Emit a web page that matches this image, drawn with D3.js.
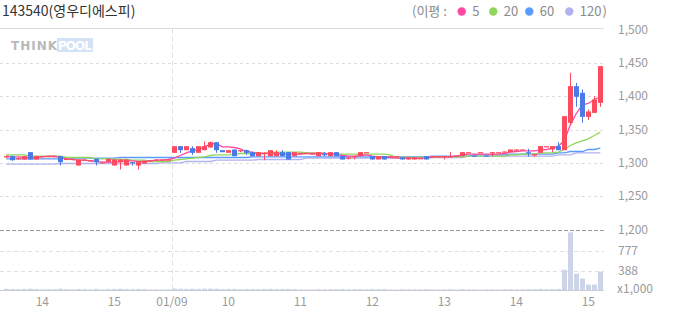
<!DOCTYPE html>
<html><head><meta charset="utf-8">
<script src="https://cdn.jsdelivr.net/npm/d3@7"></script>
<style>html,body{margin:0;padding:0;background:#fff;}svg{display:block;}</style>
</head><body>
<svg id="chart" width="673" height="315"></svg>
<script>
const title = "143540(영우디에스피)";
const opens  = [1308,1310,1306,1305,1316,1305,1310,1310,1309,1310, 1305,1306,1296,1304,1303,1306,1301,1301,1296,1301, 1296,1301,1296,1299,1304,1305,1305,1305,1315,1325, 1319,1322,1315,1319,1323,1331,1319,1315,1320,1319, 1319,1316,1310,1314,1310,1310,1316,1316,1310,1315, 1315,1314,1310,1313,1310,1316,1310,1307,1310,1310, 1316,1310,1305,1310,1310,1310,1308,1305,1305,1307, 1310,1310,1310,1310,1310,1311,1310,1316,1311,1316, 1311,1316,1316,1316,1316,1319,1319,1316,1312,1315, 1325,1320,1325,1319,1360,1415,1405,1369,1375,1390];
const closes = [1310,1304,1307,1310,1305,1310,1310,1310,1310,1301, 1306,1306,1305,1305,1304,1301,1301,1306,1305,1305, 1305,1300,1302,1303,1304,1305,1305,1305,1325,1319, 1325,1315,1325,1325,1331,1319,1316,1319,1310,1319, 1315,1310,1316,1315,1319,1316,1310,1305,1316,1315, 1315,1314,1316,1312,1316,1310,1305,1308,1310,1316, 1316,1305,1310,1305,1310,1310,1305,1308,1308,1307, 1305,1310,1310,1310,1310,1311,1316,1316,1310,1316, 1310,1316,1316,1317,1320,1320,1320,1315,1313,1325, 1325,1325,1319,1370,1415,1399,1369,1377,1395,1445];
const highs  = [1311,1311,1308,1310,1316,1310,1310,1310,1310,1310, 1306,1306,1305,1305,1304,1306,1301,1306,1305,1305, 1305,1301,1302,1303,1304,1305,1305,1305,1325,1325, 1325,1325,1325,1332,1332,1331,1319,1319,1320,1319, 1320,1316,1316,1316,1319,1319,1319,1316,1316,1315, 1315,1314,1316,1316,1316,1316,1310,1308,1310,1316, 1316,1310,1310,1310,1310,1310,1308,1308,1308,1307, 1310,1310,1310,1310,1316,1311,1316,1316,1311,1316, 1311,1316,1316,1317,1320,1320,1320,1321,1313,1325, 1325,1325,1331,1370,1435,1420,1410,1380,1400,1445];
const lows   = [1307,1303,1305,1305,1305,1305,1310,1310,1309,1296, 1305,1305,1296,1304,1303,1296,1301,1301,1296,1290, 1296,1296,1290,1299,1304,1305,1305,1305,1315,1315, 1319,1312,1315,1319,1323,1315,1316,1315,1310,1316, 1312,1310,1310,1304,1310,1310,1310,1305,1310,1315, 1315,1314,1310,1310,1310,1310,1305,1305,1305,1310, 1316,1305,1305,1305,1310,1310,1305,1305,1305,1307, 1305,1310,1310,1305,1310,1311,1310,1316,1310,1316, 1310,1310,1316,1316,1316,1319,1319,1309,1309,1315, 1325,1316,1319,1319,1358,1384,1360,1364,1375,1384];
const volumes = [32,28,25,30,35,28,22,24,26,34, 25,22,30,24,22,31,20,27,29,33, 28,24,30,26,21,22,20,24,38,33, 30,34,31,36,35,33,27,29,31,24, 28,27,26,30,32,27,29,31,26,20, 19,21,24,22,25,26,28,23,24,26, 22,27,25,26,20,19,24,22,23,20, 25,21,20,22,24,19,27,21,22,20, 23,22,20,24,26,21,22,25,24,30, 24,27,29,408,1140,330,233,117,117,370];
const ma5   = [1310,1309,1309,1308,1308,1308,1309,1310,1310,1308, 1306,1305,1304,1304,1303,1302,1301,1301,1301,1302, 1303,1303,1302,1302,1303,1304,1304,1305,1307,1311, 1315,1318,1320,1324,1328,1329,1324,1324,1323,1321, 1317,1316,1314,1314,1314,1314,1313,1313,1313,1313, 1314,1314,1314,1314,1313,1313,1311,1310,1310,1311, 1312,1310,1309,1309,1308,1307,1307,1307,1307,1307, 1307,1309,1309,1309,1309,1310,1312,1313,1313,1313, 1313,1313,1313,1314,1316,1317,1318,1318,1318,1319, 1320,1322,1325,1333,1357,1374,1387,1389,1395,1399];
const ma20  = [1312,1312,1312,1312,1310,1310,1310,1310,1310,1310, 1308,1308,1308,1308,1308,1306,1306,1306,1305,1305, 1305,1304,1304,1304,1302,1302,1302,1302,1304,1305, 1306,1307,1308,1309,1311,1312,1312,1312,1313,1314, 1314,1314,1314,1314,1316,1316,1316,1316,1316,1316, 1315,1315,1315,1315,1313,1313,1313,1313,1313,1313, 1313,1313,1313,1313,1312,1308,1308,1308,1308,1308, 1308,1308,1309,1309,1309,1309,1309,1310,1310,1310, 1310,1310,1310,1310,1312,1312,1313,1313,1313,1315, 1315,1315,1316,1320,1326,1330,1333,1336,1341,1346];
const ma60  = [1306,1306,1306,1306,1306,1306,1306,1306,1306,1306, 1307,1307,1307,1307,1307,1307,1307,1307,1307,1308, 1308,1308,1308,1308,1308,1308,1308,1308,1308,1308, 1308,1308,1308,1308,1308,1308,1308,1308,1308,1308, 1308,1309,1309,1309,1309,1309,1309,1309,1309,1309, 1309,1309,1309,1309,1309,1309,1309,1309,1309,1309, 1309,1309,1309,1309,1309,1309,1309,1309,1309,1309, 1309,1310,1310,1310,1310,1310,1310,1310,1312,1312, 1312,1312,1312,1312,1313,1313,1313,1313,1313,1313, 1313,1313,1315,1315,1317,1317,1317,1320,1320,1322];
const ma120 = [1298,1298,1298,1298,1298,1298,1298,1298,1298,1299, 1299,1299,1299,1299,1299,1299,1299,1299,1299,1299, 1299,1299,1299,1299,1299,1299,1300,1300,1300,1300, 1302,1302,1302,1302,1302,1304,1304,1304,1304,1304, 1304,1304,1305,1305,1305,1305,1305,1305,1305,1305, 1307,1307,1307,1307,1307,1307,1307,1307,1307,1307, 1307,1307,1307,1307,1307,1308,1308,1308,1308,1308, 1308,1308,1308,1308,1308,1308,1308,1310,1310,1310, 1310,1310,1310,1310,1310,1310,1310,1310,1310,1310, 1310,1310,1312,1312,1312,1315,1315,1315,1315,1315];
const xTickPos = [6, 18, 27.6, 37, 49, 61, 73, 85, 97];
const xTickLabels = ["14", "15", "01/09", "10", "11", "12", "13", "14", "15"];
const dayBreaks = [27.6];
const priceTicks = [1200, 1250, 1300, 1350, 1400, 1450, 1500];
const volTicks = [388, 777];
const volTickLabels = ["388", "777"];
const legendNames = ["5", "20", "60", "120"];
const legendColors = ["#ff47a3", "#8fd65a", "#5b9bff", "#b2b3ee"];

const svg = d3.select("#chart");
const font = "'Noto Sans CJK KR', 'Noto Sans', sans-serif";
const N = closes.length;
const left = 3.3, right = 603.3;
const x = d3.scaleLinear().domain([-0.5, N - 0.5]).range([left, right]);
const yP = d3.scaleLinear().domain([1200, 1500]).range([229.5, 29.5]);
const yV = d3.scaleLinear().domain([0, 1166]).range([290.5, 231]);
const RED = "#fc4a5e", BLUE = "#4a7ae6";

// title & legend
svg.append("text").attr("x", 2).attr("y", 16).attr("font-family", font).attr("font-size", 14)
  .attr("fill", "#333").text(title);
const lg = svg.append("g").attr("font-family", font).attr("font-size", 13).attr("fill", "#8a8a8a");
lg.append("text").attr("x", 412).attr("y", 16).text("(이평 :");
const dotX = [461.7, 493.3, 529.3, 569.3];
legendNames.forEach((n, k) => {
  lg.append("circle").attr("cx", dotX[k]).attr("cy", 11.5).attr("r", 4.2).attr("fill", legendColors[k]);
  lg.append("text").attr("x", dotX[k] + 10.5).attr("y", 16).text(n);
});
lg.append("text").attr("x", 602.5).attr("y", 16).text(")");

// frame line
svg.append("line").attr("x1", 0).attr("x2", 604).attr("y1", 28.5).attr("y2", 28.5)
  .attr("stroke", "#dcdcdc");

// logo
const logo = svg.append("g").attr("font-family", "'DejaVu Sans', sans-serif").attr("font-weight", "bold").attr("font-size", 12);
logo.append("text").attr("x", 11).attr("y", 50).attr("fill", "#b9b9b9").attr("textLength", 46).text("THINK");
logo.append("rect").attr("x", 57).attr("y", 38).attr("width", 36).attr("height", 14).attr("fill", "#d3e2f6");
logo.append("text").attr("x", 58).attr("y", 50).attr("fill", "#ffffff").attr("textLength", 34).text("POOL");

// grid
const grid = svg.append("g");
grid.selectAll(".pg").data(priceTicks.filter(t => t > 1200 && t < 1500)).join("line")
  .attr("x1", 0).attr("x2", 604).attr("y1", d => Math.round(yP(d)) + 0.5).attr("y2", d => Math.round(yP(d)) + 0.5)
  .attr("stroke", "#dedede").attr("stroke-dasharray", "3,3");
grid.append("line").attr("x1", 0).attr("x2", 604).attr("y1", Math.round(yP(1200)) + 0.5).attr("y2", Math.round(yP(1200)) + 0.5)
  .attr("stroke", "#9a9a9a").attr("stroke-dasharray", "4,2");
grid.selectAll(".vg").data(volTicks).join("line")
  .attr("x1", 0).attr("x2", 604).attr("y1", d => Math.round(yV(d)) + 0.5).attr("y2", d => Math.round(yV(d)) + 0.5)
  .attr("stroke", "#e0e0e0").attr("stroke-dasharray", "4,3");
grid.selectAll(".db").data(dayBreaks).join("line")
  .attr("x1", d => Math.round(x(d)) + 0.5).attr("x2", d => Math.round(x(d)) + 0.5)
  .attr("y1", 29).attr("y2", 290).attr("stroke", "#dedede").attr("stroke-dasharray", "4,4");

// volume
const idx = d3.range(N);
svg.append("g").selectAll("rect").data(idx).join("rect")
  .attr("x", i => Math.round(x(i)) - 2).attr("width", 5)
  .attr("y", i => yV(volumes[i])).attr("height", i => Math.max(1, yV(0) - yV(volumes[i])))
  .attr("fill", "#cdd4e8");
svg.append("line").attr("x1", 0).attr("x2", 604).attr("y1", 290.5).attr("y2", 290.5).attr("stroke", "#c9cbd6");

// moving averages
const line = arr => d3.line().x((d, i) => x(i)).y(d => yP(d))(arr);
[[ma120, legendColors[3]], [ma60, legendColors[2]], [ma20, legendColors[1]], [ma5, legendColors[0]]].forEach(([arr, c]) => {
  svg.append("path").attr("d", line(arr)).attr("fill", "none").attr("stroke", c).attr("stroke-width", 1.3);
});

// candles
const cg = svg.append("g");
cg.selectAll("line").data(idx).join("line")
  .attr("x1", i => Math.round(x(i)) + 0.5).attr("x2", i => Math.round(x(i)) + 0.5)
  .attr("y1", i => yP(highs[i])).attr("y2", i => yP(lows[i]))
  .attr("stroke", i => closes[i] < opens[i] ? BLUE : RED).attr("stroke-width", 1);
cg.selectAll("rect").data(idx).join("rect")
  .attr("x", i => Math.round(x(i)) - 2).attr("width", 5)
  .attr("y", i => yP(Math.max(opens[i], closes[i])))
  .attr("height", i => Math.max(1.2, Math.abs(yP(opens[i]) - yP(closes[i]))))
  .attr("fill", i => closes[i] < opens[i] ? BLUE : RED);

// axes labels
const ax = svg.append("g").attr("font-family", font).attr("font-size", 12).attr("fill", "#9a9a9a");
ax.selectAll(".pl").data(priceTicks).join("text")
  .attr("x", 618).attr("y", d => yP(d)).attr("dy", "0.35em").text(d => d3.format(",")(d));
ax.selectAll(".vl").data(volTicks).join("text")
  .attr("x", 618).attr("y", d => yV(d)).attr("dy", "0.35em").text((d, k) => volTickLabels[k]);
ax.append("text").attr("x", 617).attr("y", 289).attr("dy", "0.35em").text("x1,000");
ax.selectAll(".xl").data(xTickPos).join("text")
  .attr("x", d => x(d)).attr("y", 302).attr("dy", "0.35em").attr("text-anchor", "middle")
  .text((d, k) => xTickLabels[k]);
</script>
</body></html>
